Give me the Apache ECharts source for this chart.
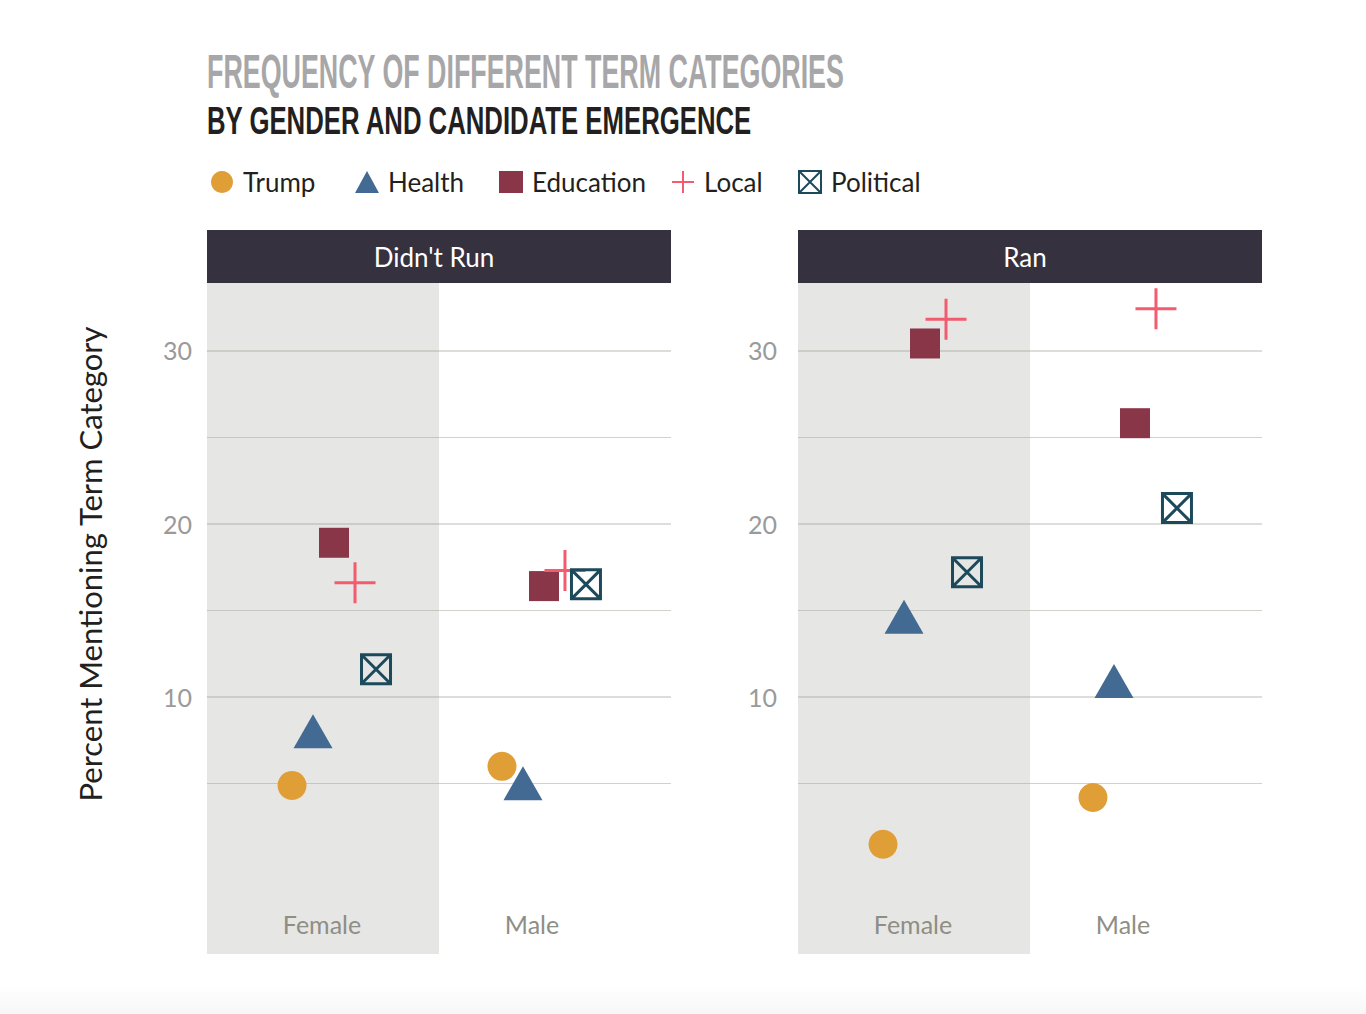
<!DOCTYPE html>
<html><head><meta charset="utf-8">
<script src="https://cdn.jsdelivr.net/npm/echarts@6/dist/echarts.min.js"></script>
<style>html,body{margin:0;padding:0;background:#fff}#c{width:1366px;height:1014px}</style>
</head><body><div id="c"></div>
<script>
// ---- data ----
const genders = ['Female', 'Male'];
const panelTitles = ["Didn't Run", 'Ran'];
const termNames = ['Trump', 'Health', 'Education', 'Local', 'Political'];

const trumpDidntRun     = [4.9, 6.0];
const healthDidntRun    = [7.7, 4.7];
const educationDidntRun = [18.9, 16.4];
const localDidntRun     = [16.6, 17.3];
const politicalDidntRun = [11.6, 16.5];

const trumpRan     = [1.5, 4.2];
const healthRan    = [14.3, 10.6];
const educationRan = [30.4, 25.8];
const localRan     = [31.8, 32.4];
const politicalRan = [17.2, 20.9];

const gridLineValues = [5, 10, 15, 20, 25, 30];
const yTickLabels = [10, 20, 30];

const panelValues = [
  [trumpDidntRun, healthDidntRun, educationDidntRun, localDidntRun, politicalDidntRun],
  [trumpRan, healthRan, educationRan, localRan, politicalRan]
];

// ---- layout / style ----
const FONT = 'Lato, "Noto Sans", sans-serif';
const X_MIN = -0.605, X_MAX = 1.605, DODGE = 0.1;
const Y_MIN = -4.83, Y_MAX = 33.89;
const gridBoxes = [
  {left: 207, top: 283, width: 464, height: 671, labelMargin: 15},
  {left: 798, top: 283, width: 464, height: 671, labelMargin: 21}
];
const legendLefts = [211, 355, 499, 671, 798];
const colors = {
  Trump: '#e09e37', Health: '#436a92', Education: '#8a3649',
  Local: '#f25c6e', Political: '#1c4a5b'
};
const symbolStyles = {
  Trump: {symbol: 'circle', symbolSize: 29, itemStyle: {color: colors.Trump, opacity: 1}},
  Health: {symbol: 'triangle', symbolSize: [39, 34], symbolOffset: [0, -5.7], itemStyle: {color: colors.Health, opacity: 1}},
  Education: {symbol: 'rect', symbolSize: 30, itemStyle: {color: colors.Education, opacity: 1}},
  Local: {symbol: 'path://M5,0 L5,10 M0,5 L10,5', symbolSize: 41,
          itemStyle: {color: 'rgba(0,0,0,0)', borderColor: colors.Local, borderWidth: 3, opacity: 1}},
  Political: {symbol: 'path://M0,0 L10,0 L10,10 L0,10 Z M0,0 L10,10 M10,0 L0,10', symbolSize: 29,
          itemStyle: {color: 'rgba(0,0,0,0)', borderColor: colors.Political, borderWidth: 3, opacity: 1}}
};

const grids = [], xAxes = [], yAxes = [], series = [], graphics = [];

gridBoxes.forEach((g, gi) => {
  grids.push({left: g.left, top: g.top, width: g.width, height: g.height, containLabel: false});
  xAxes.push({
    gridIndex: gi, type: 'value', min: X_MIN, max: X_MAX, z: 20,
    axisLine: {show: false}, axisTick: {show: false}, splitLine: {show: false},
    axisLabel: {
      show: true, customValues: [0, 1], inside: true, margin: 18,
      formatter: v => genders[Math.round(v)],
      color: '#8e8e85', fontSize: 25, fontFamily: FONT, padding: [0, 24, 0, 0]
    }
  });
  yAxes.push({
    gridIndex: gi, type: 'value', min: Y_MIN, max: Y_MAX, z: 20,
    axisLine: {show: false}, axisTick: {show: false}, splitLine: {show: false},
    axisLabel: {
      show: true, customValues: yTickLabels, margin: g.labelMargin,
      color: '#9a9a9a', fontSize: 25, fontFamily: FONT
    }
  });
  termNames.forEach((name, k) => {
    const s = Object.assign({
      type: 'scatter', name: name, xAxisIndex: gi, yAxisIndex: gi, z: 5,
      silent: true,
      emphasis: {disabled: true},
      data: panelValues[gi][k].map((v, i) => [i + (k - 2) * DODGE, v])
    }, JSON.parse(JSON.stringify(symbolStyles[name])));
    if (k === 0) {
      s.markArea = {
        silent: true, z: 1,
        itemStyle: {color: '#e6e6e4', opacity: 1},
        data: [[{xAxis: X_MIN}, {xAxis: 0.5}]]
      };
      s.markLine = {
        silent: true, z: 2, symbol: ['none', 'none'],
        label: {show: false},
        data: gridLineValues.map(v => ({
          yAxis: v,
          lineStyle: {color: 'rgba(165,165,155,0.5)', width: yTickLabels.includes(v) ? 1.6 : 1.2, type: 'solid', opacity: 1}
        }))
      };
    }
    series.push(s);
  });
  // facet header
  graphics.push({
    type: 'rect', shape: {x: g.left, y: 230, width: g.width, height: 53},
    style: {fill: '#36313f'}, silent: true
  });
  graphics.push({
    type: 'text', x: g.left + g.width / 2 - 5, y: 257, silent: true,
    style: {text: panelTitles[gi], fill: '#ffffff', font: '26px ' + FONT,
            textAlign: 'center', textVerticalAlign: 'middle'}
  });
});

// y axis title
graphics.push({
  type: 'text', x: 90, y: 564, rotation: Math.PI / 2, silent: true,
  style: {text: 'Percent Mentioning Term Category', fill: '#231f20', font: '31px ' + FONT,
          textAlign: 'center', textVerticalAlign: 'middle'}
});
// titles
graphics.push({
  type: 'text', x: 207, y: 71, scaleX: 0.559, silent: true,
  style: {text: 'FREQUENCY OF DIFFERENT TERM CATEGORIES', fill: '#a7a7a9',
          font: 'bold 48px "Liberation Sans Narrow", "Liberation Sans", sans-serif',
          textAlign: 'left', textVerticalAlign: 'middle'}
});
graphics.push({
  type: 'text', x: 207, y: 120, scaleX: 0.66, silent: true,
  style: {text: 'BY GENDER AND CANDIDATE EMERGENCE', fill: '#231f20',
          font: 'bold 39px "Liberation Sans Narrow", "Liberation Sans", sans-serif',
          textAlign: 'left', textVerticalAlign: 'middle'}
});
// faint bottom band
graphics.push({
  type: 'rect', shape: {x: 0, y: 985, width: 1366, height: 29}, silent: true, z: -10,
  style: {fill: new echarts.graphic.LinearGradient(0, 0, 0, 1, [
    {offset: 0, color: '#ffffff'}, {offset: 1, color: '#f7f7f7'}])}
});

const legends = termNames.map((name, k) => ({
  data: [name], left: legendLefts[k], top: 169, padding: 0,
  itemWidth: 24, itemHeight: 22, selectedMode: false,
  textStyle: {color: '#231f20', fontSize: 26, fontFamily: FONT, padding: [0, 0, 0, 4]}
}));

const chart = echarts.init(document.getElementById('c'), null, {renderer: 'svg'});
chart.setOption({
  animation: false,
  backgroundColor: '#ffffff',
  textStyle: {fontFamily: FONT},
  legend: legends,
  grid: grids, xAxis: xAxes, yAxis: yAxes, series: series,
  graphic: graphics
});
</script></body></html>
